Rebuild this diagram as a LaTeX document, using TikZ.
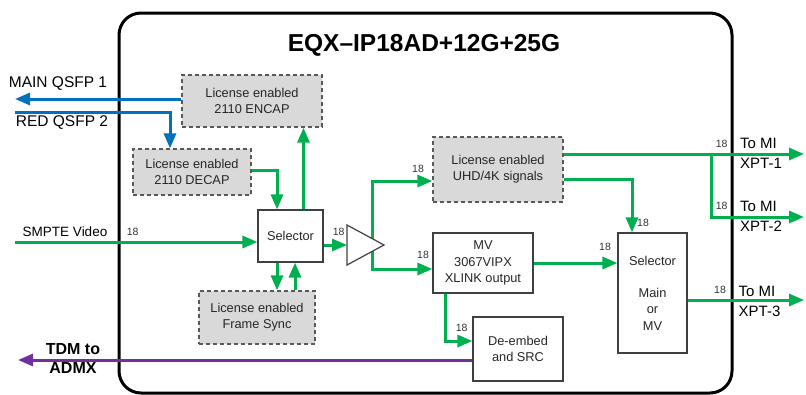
\documentclass[tikz,border=0pt]{standalone}
\usepackage{fontspec}
\setmainfont{Liberation Sans}
\usetikzlibrary{arrows.meta}
\definecolor{gr}{HTML}{00B050}
\definecolor{bl}{HTML}{0070C0}
\definecolor{pu}{HTML}{7030A0}
\definecolor{lic}{HTML}{D9D9D9}
\definecolor{bd}{HTML}{404040}
\definecolor{dbd}{HTML}{595959}
\tikzset{
  tip/.style={-{Triangle[length=15pt,width=12pt]}},
  gl/.style={draw=gr,line width=3pt,tip},
  blu/.style={draw=bl,line width=3pt,tip},
  pul/.style={draw=pu,line width=3pt,tip},
  licbox/.style={draw=dbd,fill=lic,dash pattern=on 4pt off 3pt,line width=1.3pt,inner sep=0pt,align=center,font=\fontsize{12.8}{16}\selectfont,text=black!85},
  wbox/.style={draw=bd,fill=white,line width=1.2pt,inner sep=0pt,align=center,font=\fontsize{12.8}{16}\selectfont,text=black!85},
  num/.style={font=\fontsize{10.5}{12}\selectfont,text=black!80,inner sep=0pt},
  lbl/.style={font=\fontsize{15.5}{20}\selectfont,inner sep=0pt,align=left},
}
\begin{document}
\begin{tikzpicture}[x=1pt,y=-1pt]
\useasboundingbox (0,0) rectangle (806,394);
% main frame
\draw[line width=3pt,rounded corners=22pt] (119,13) rectangle (732,393);
\node[font=\fontsize{24.5}{28}\selectfont\bfseries,inner sep=0pt] (title) at (424,45) {EQX–IP18AD+12G+25G};
% boxes
\node[licbox,minimum width=140,minimum height=52] (encap) at (252,101) {License enabled\\2110 ENCAP};
\node[licbox,minimum width=118,minimum height=46] (decap) at (192,172) {License enabled\\2110 DECAP};
\node[licbox,minimum width=116,minimum height=53] (fs) at (257,317.5) {License enabled\\Frame Sync};
\node[licbox,minimum width=130,minimum height=65] (uhd) at (498,169.5) {License enabled\\UHD/4K signals};
\node[wbox,minimum width=65,minimum height=52] (sel1) at (290.5,236) {Selector};
\node[wbox,minimum width=100,minimum height=60,font=\fontsize{12.8}{16.7}\selectfont] (mv) at (483,263) {MV\\3067VIPX\\XLINK output};
\node[wbox,minimum width=69,minimum height=120,font=\fontsize{12.8}{16.3}\selectfont] (sel2) at (652.5,293) {Selector\\[16.3pt]Main\\or\\MV};
\node[wbox,minimum width=90,minimum height=64] (deemb) at (518,349) {De-embed\\and SRC};
% free ends
\coordinate (mainq) at (15,99);
\coordinate (redq) at (15,112);
\coordinate (smpte) at (15,242);
\coordinate (tdm) at (18,360);
\coordinate (bufin) at (347,245);
\coordinate (br) at (372,245);
\coordinate (split) at (711.5,154);
\coordinate (xpt1) at (804,154);
\coordinate (xpt2) at (804,217);
\coordinate (xpt3) at (804,300);
% blue
\draw[blu] ([yshift=2pt]encap.west) -- (encap.west |- mainq) -- (mainq);
\draw[blu] (redq) -| ([xshift=-22pt]decap.north);
% green
\draw[gl] (smpte) -- ([yshift=-6pt]sel1.west);
\draw[gl] ([yshift=2pt]decap.east) -| ([xshift=-13.5pt]sel1.north);
\draw[gl] ([xshift=13pt]sel1.north) -- ([xshift=13pt]sel1.north |- encap.south);
\draw[gl] ([xshift=-13.5pt]sel1.south) -- ([xshift=-13.5pt]sel1.south |- fs.north);
\draw[gl] ([xshift=4.5pt]sel1.south |- fs.north) -- ([xshift=4.5pt]sel1.south);
\draw[gl] ([yshift=-9pt]sel1.east) -- (bufin);
\draw[gl] (br) |- ([yshift=-11.5pt]uhd.west);
\draw[gl] (br) |- ([yshift=-6pt]mv.west);
% buffer triangle
\draw[draw=bd,fill=white,line width=1.2pt] (347,225) -- (347,265) -- (384,245) -- cycle;
\draw[gl] ([yshift=15.5pt]uhd.east) -- (xpt1);
\draw[gl] (split) |- (xpt2);
\draw[gl] ([yshift=-9.5pt]uhd.east) -| ([xshift=-20.5pt]sel2.north);
\draw[gl] (mv.east) -- (mv.east -| sel2.west);
\draw[gl] ([yshift=-7pt]sel2.east) -- (xpt3);
\draw[gl] ([xshift=-38pt]mv.south) |- ([yshift=8pt]deemb.west);
% purple
\draw[pul] ([yshift=-11pt]deemb.west) -- (tdm);
% labels
\node[lbl] (lmain) at (58,84) {MAIN QSFP 1};
\node[lbl] (lred) at (62,123) {RED QSFP 2};
\node[font=\fontsize{13.5}{16}\selectfont,inner sep=0pt] (lsmpte) at (65,232) {SMPTE Video};
\node[font=\fontsize{16}{19}\selectfont\bfseries,inner sep=0pt,align=center] (ltdm) at (73,358.5) {TDM to\\ADMX};
\node[lbl,anchor=west,font=\fontsize{15}{20}\selectfont] (lx1) at (740,153.5) {To MI\\XPT-1};
\node[lbl,anchor=west,font=\fontsize{15}{20}\selectfont] (lx2) at (740,216.5) {To MI\\XPT-2};
\node[lbl,anchor=west,font=\fontsize{15}{20}\selectfont] (lx3) at (738.5,301) {To MI\\XPT-3};
% 18 labels
\node[num] (n1) at (132.7,232) {18};
\node[num] (n2) at (338.7,232) {18};
\node[num] (n3) at (418,169) {18};
\node[num] (n4) at (423,255) {18};
\node[num] (n5) at (605,247) {18};
\node[num] (n6) at (643,223) {18};
\node[num] (n7) at (461.7,328) {18};
\node[num] (n8) at (721.7,144) {18};
\node[num] (n9) at (721.7,206) {18};
\node[num] (n10) at (720,290) {18};
\end{tikzpicture}
\end{document}
